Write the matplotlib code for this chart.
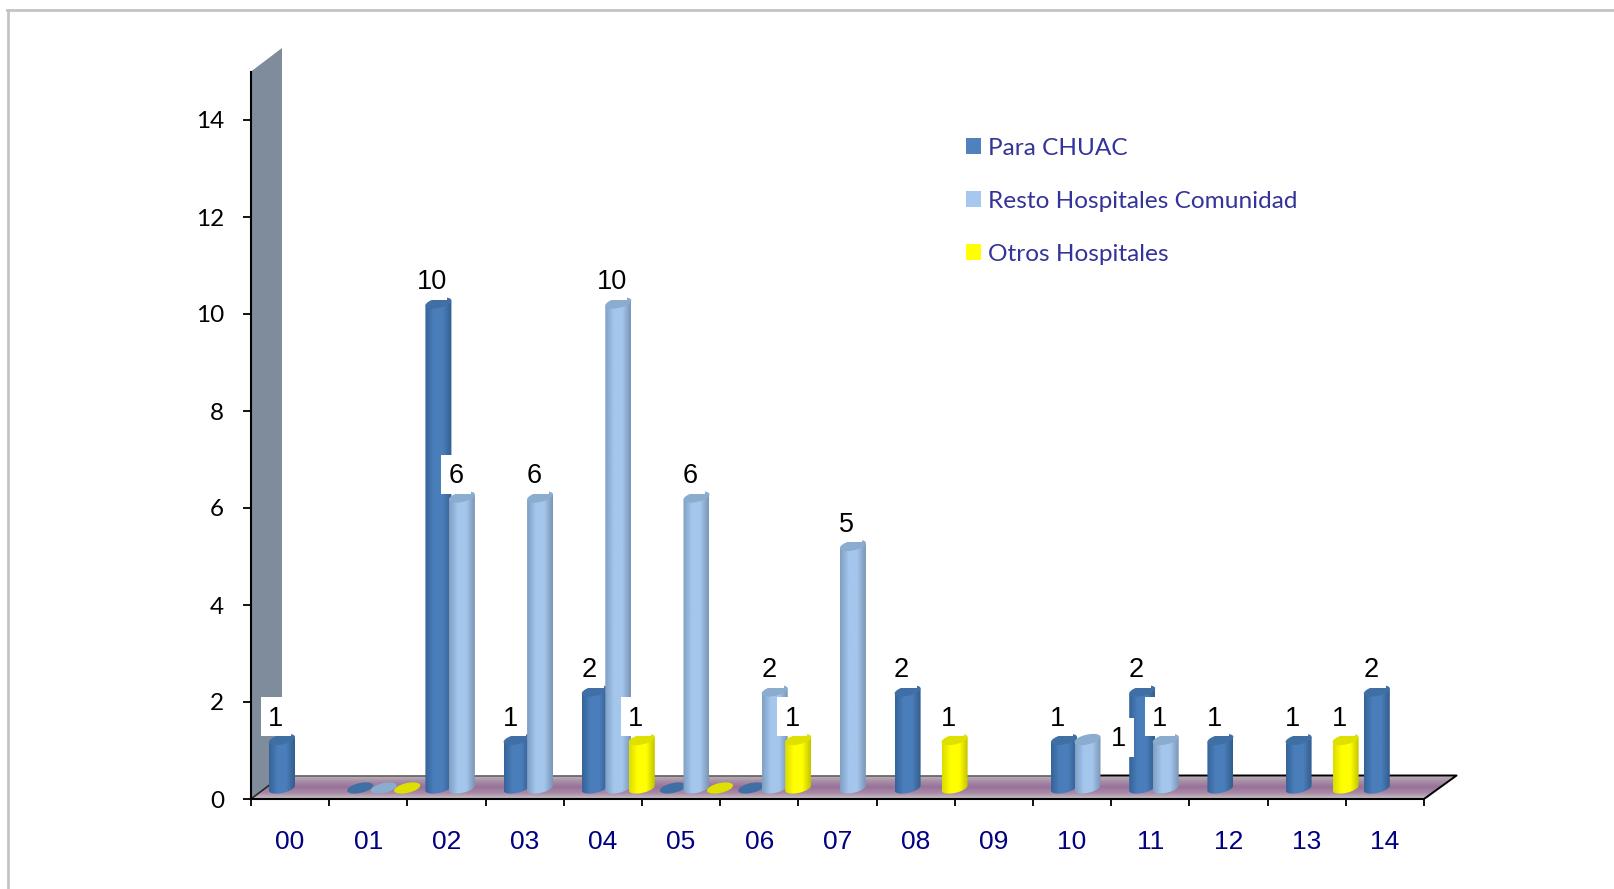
import numpy as np
import matplotlib
matplotlib.use("Agg")
import matplotlib.pyplot as plt
from matplotlib.colors import LinearSegmentedColormap
from matplotlib.lines import Line2D
from matplotlib.patches import Patch, PathPatch, Polygon, Rectangle
from matplotlib.path import Path

years = ["00", "01", "02", "03", "04", "05", "06", "07", "08", "09", "10", "11", "12", "13", "14"]
para_chuac = [1, 0, 10, 1, 2, 0, 0, None, 2, None, 1, 2, 1, 1, 2]
resto_hospitales = [None, 0, 6, 6, 10, 6, 2, 5, None, None, 1, 1, None, None, None]
otros_hospitales = [None, 0, None, None, 1, 0, 1, None, 1, None, None, None, None, 1, None]

series_names = ["Para CHUAC", "Resto Hospitales Comunidad", "Otros Hospitales"]
series_values = [para_chuac, resto_hospitales, otros_hospitales]
legend_colors = ["#4f81bd", "#a6c8ee", "#ffff00"]
shades = [
    ["#356399", "#4a7ebb", "#4a7ebb", "#335d8e"],
    ["#7f9fc4", "#a4c6ec", "#a4c6ec", "#7a96b6"],
    ["#dcdc00", "#ffff00", "#ffff00", "#c4c400"],
]
top_colors = ["#3f6fa5", "#8aaccf", "#e0e000"]

# pixels per data unit
PX_X = 78.2
PX_Y = 48.5
W, H = 1615, 889

fig = plt.figure(figsize=(W / 100, H / 100), dpi=100, facecolor="white")
ax = fig.add_axes([251 / W, (H - 799) / H, 1219 / W, 759 / H])
ax.set_xlim(0, 1219 / PX_X)
ax.set_ylim(0, 759 / PX_Y)
ax.patch.set_alpha(0)

# outer frame, runs off the right and bottom of the picture
fig.add_artist(Line2D([8 / W, 8 / W], [-0.02, (H - 10) / H], color="#c4c4c4", lw=2))
fig.add_artist(Line2D([7 / W, 1.02], [(H - 10) / H, (H - 10) / H], color="#c4c4c4", lw=2))


def gradient_fill(poly, colors, horizontal, z):
    cmap = LinearSegmentedColormap.from_list("g", colors)
    g = np.linspace(0, 1, 64)
    g = g.reshape(1, -1) if horizontal else g.reshape(-1, 1)
    xs, ys = poly[:, 0], poly[:, 1]
    im = ax.imshow(g, cmap=cmap, aspect="auto", origin="lower", zorder=z,
                   extent=(xs.min(), xs.max(), ys.min(), ys.max()), interpolation="bilinear")
    clip = PathPatch(Path(np.vstack([poly, poly[0]])), transform=ax.transData, fc="none", ec="none")
    ax.add_patch(clip)
    im.set_clip_path(clip)


# side wall and floor
depth_x = 31 / PX_X
depth_y = 23.5 / PX_Y
ax.add_patch(Polygon([(0, 0), (0, 15), (depth_x, 15 + depth_y), (depth_x, depth_y)],
                     fc="#7f8c9b", ec="none", zorder=1))
floor = np.array([(0, 0), (15, 0), (15 + depth_x + 0.02, depth_y), (depth_x, depth_y)])
gradient_fill(floor, ["#c9c4c8", "#a98aa6", "#98719a", "#a88ea6", "#bdb9b9"], False, 1)
ax.plot([0, depth_x], [0, depth_y], color="#222222", lw=1.1, zorder=2)
ax.plot([depth_x, 10.75], [depth_y, depth_y], color="#5a5a5a", lw=1.1, zorder=2)
ax.plot([10.75, 15 + depth_x + 0.02, 15], [depth_y, depth_y, 0], color="black", lw=1.4, zorder=2)

# cylinders
half_w = 13 / PX_X
base_y = 11 / PX_Y
t = np.linspace(0, 2 * np.pi, 60)
z = 3
for s, values in enumerate(series_values):
    for k, v in enumerate(values):
        if v is None:
            continue
        cx = k + 31 / PX_X + s * 23.5 / PX_X
        ell_x = half_w * np.cos(t)
        ell_y = (5 * np.sin(t) + 2.5 * np.cos(t)) / PX_Y
        if v > 0:
            front = np.linspace(np.pi, 2 * np.pi, 30)
            low_x = cx + half_w * np.cos(front)
            low_y = base_y + (5 * np.sin(front) + 2.5 * np.cos(front)) / PX_Y
            body = np.vstack([np.column_stack([low_x, low_y]),
                              [(cx + half_w, base_y + v + 2.5 / PX_Y), (cx - half_w, base_y + v - 2.5 / PX_Y)]])
            gradient_fill(body, shades[s], True, z)
        ax.add_patch(Polygon(np.column_stack([cx + ell_x, base_y + v + ell_y]),
                             fc=top_colors[s], ec="none", zorder=z + 0.5))
        z += 1

# data labels sit on white boxes that hide what is behind them
label_shift = {(10, 1): (37.5 / PX_X, -21 / PX_Y)}
for s, values in enumerate(series_values):
    for k, v in enumerate(values):
        if not v:
            continue
        dx, dy = label_shift.get((k, s), (0, 0))
        lx = k + (25 + s * 23.5) / PX_X + dx
        ly = v + 34 / PX_Y + dy
        ax.add_patch(Rectangle((lx - 15 / PX_X, ly - 19.5 / PX_Y), 30 / PX_X, 39 / PX_Y,
                               fc="white", ec="none", zorder=100))
        ax.text(lx, ly + 1 / PX_Y, str(v), ha="center", va="center_baseline", fontsize=19.5,
                family="Liberation Sans", color="black", zorder=101)

for side in ["top", "right"]:
    ax.spines[side].set_visible(False)
ax.spines["left"].set_bounds(0, 15)
ax.spines["bottom"].set_bounds(0, 15)
ax.spines["left"].set_linewidth(1.5)
ax.spines["bottom"].set_linewidth(1.5)
ax.spines["left"].set_zorder(200)
ax.spines["bottom"].set_zorder(200)

ax.set_yticks(range(0, 16, 2))
ax.tick_params(axis="y", length=6, width=1.3, pad=13.5)
for lab in ax.get_yticklabels():
    lab.set_family("Lato")
    lab.set_fontsize(17.5)
    lab.set_color("black")

ax.set_xticks(range(16))
ax.set_xticklabels([])
ax.set_xticks(np.arange(15) + 0.5, years, minor=True)
ax.tick_params(axis="x", which="major", length=5, width=1.3)
ax.tick_params(axis="x", which="minor", length=0, pad=22, labelsize=19, labelcolor="#000080")
for lab in ax.get_xticklabels(minor=True):
    lab.set_family("Liberation Sans")

handles = [Patch(fc=c, ec="none") for c in legend_colors]
leg = fig.legend(handles, series_names, loc="upper left", bbox_to_anchor=(966 / W, (H - 138) / H),
                 bbox_transform=fig.transFigure, frameon=False, borderpad=0, borderaxespad=0,
                 handlelength=0.62, handleheight=0.62, handletextpad=0.3, labelspacing=1.3,
                 prop={"family": "Lato", "size": 17.6})
for txt in leg.get_texts():
    txt.set_color("#333399")

fig.savefig("out.png", dpi=100)
